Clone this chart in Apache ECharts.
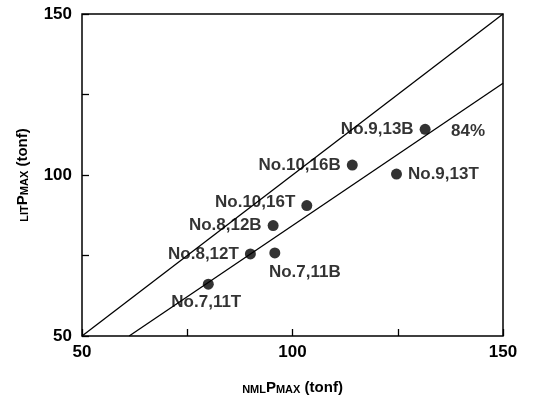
<!DOCTYPE html>
<html style="height: 100%">
<head>
  <meta charset="utf-8">
</head>
<body style="height: 100%; margin: 0; background: #fff">
  <div id="container" style="width: 536px; height: 400px"></div>

  <script type="text/javascript" src="https://cdn.jsdelivr.net/npm/echarts@6/dist/echarts.min.js"></script>
  <script type="text/javascript">
    var myChart = echarts.init(document.getElementById('container'));

    // measured points: [NML Pmax, LIT Pmax]
    const names = ['No.7,11T', 'No.8,12T', 'No.7,11B', 'No.8,12B', 'No.10,16T', 'No.10,16B', 'No.9,13T', 'No.9,13B'];
    const nmlP = [80, 90, 95.8, 95.4, 103.4, 114.2, 124.7, 131.5];
    const litP = [66.1, 75.5, 75.8, 84.3, 90.5, 103.1, 100.3, 114.2];

    // reference lines
    const lineEqual = [[50, 50], [150, 150]];
    const line84 = [[61.2, 50], [150, 128.5]];
    const note84 = [[141.7, 113.7]];

    const xTicks = [50, 100, 150];
    const yTicks = [50, 100, 150];

    // where each label sits relative to its point
    const labelPos = {
      'No.7,11T': {position: 'bottom', offset: [-2, -1]},
      'No.8,12T': {position: 'left', offset: [-1, 0]},
      'No.7,11B': {position: 'bottom', offset: [30, 0]},
      'No.8,12B': {position: 'left', offset: [-1, 0]},
      'No.10,16T': {position: 'left', offset: [-1, -3]},
      'No.10,16B': {position: 'left', offset: [-1, 0]},
      'No.9,13T': {position: 'right', offset: [1, 0]},
      'No.9,13B': {position: 'left', offset: [-1, 0]}
    };

    const font = 'Liberation Sans, Arial, sans-serif';

    const points = names.map(function (n, i) {
      return {
        value: [nmlP[i], litP[i]],
        label: {
          show: true,
          formatter: n,
          position: labelPos[n].position,
          offset: labelPos[n].offset
        }
      };
    });

    var option = {
      animation: false,
      backgroundColor: '#fff',
      grid: {
        left: 82, right: 33, top: 14, bottom: 64,
        show: true, borderColor: '#000', borderWidth: 1.5
      },
      xAxis: {
        type: 'value', min: 50, max: 150, interval: 25,
        axisLine: {show: false},
        axisTick: {show: true, inside: true, length: 7, lineStyle: {color: '#000', width: 1.3}},
        splitLine: {show: false},
        axisLabel: {
          color: '#000', fontSize: 17, fontWeight: 'bold', fontFamily: font, margin: 8,
          formatter: function (v) { return xTicks.indexOf(v) >= 0 ? String(v) : ''; }
        },
        name: '{s|NML}{b|P}{s|MAX}{b| (tonf)}',
        nameLocation: 'middle', nameGap: 44,
        nameTextStyle: {
          color: '#000', fontFamily: font,
          rich: {
            s: {fontSize: 11, fontWeight: 'bold', color: '#000', fontFamily: font, verticalAlign: 'bottom'},
            b: {fontSize: 15, fontWeight: 'bold', color: '#000', fontFamily: font, verticalAlign: 'bottom'}
          }
        }
      },
      yAxis: {
        type: 'value', min: 50, max: 150, interval: 25,
        axisLine: {show: false},
        axisTick: {show: true, inside: true, length: 7, lineStyle: {color: '#000', width: 1.3}},
        splitLine: {show: false},
        axisLabel: {
          color: '#000', fontSize: 17, fontWeight: 'bold', fontFamily: font, margin: 10,
          formatter: function (v) { return yTicks.indexOf(v) >= 0 ? String(v) : ''; }
        },
        name: '{s|LIT}{b|P}{s|MAX}{b| (tonf)}',
        nameLocation: 'middle', nameGap: 52, nameRotate: 90,
        nameTextStyle: {
          color: '#000', fontFamily: font,
          rich: {
            s: {fontSize: 11, fontWeight: 'bold', color: '#000', fontFamily: font, verticalAlign: 'bottom'},
            b: {fontSize: 15, fontWeight: 'bold', color: '#000', fontFamily: font, verticalAlign: 'bottom'}
          }
        }
      },
      series: [
        {
          type: 'line', data: lineEqual, symbol: 'none', silent: true,
          lineStyle: {color: '#000', width: 1.3}
        },
        {
          type: 'line', data: line84, symbol: 'none', silent: true,
          lineStyle: {color: '#000', width: 1.3}
        },
        {
          type: 'scatter', data: points, symbol: 'circle', symbolSize: 11,
          itemStyle: {color: '#000'},
          label: {color: '#000', fontSize: 17, fontWeight: 'bold', fontFamily: font}
        },
        {
          type: 'scatter', data: note84, symbolSize: 0,
          label: {
            show: true, position: 'inside', formatter: '84%',
            color: '#000', fontSize: 17, fontWeight: 'bold', fontFamily: font
          }
        }
      ]
    };

    myChart.setOption(option);
    window.addEventListener('resize', myChart.resize);
  </script>
</body>
</html>
